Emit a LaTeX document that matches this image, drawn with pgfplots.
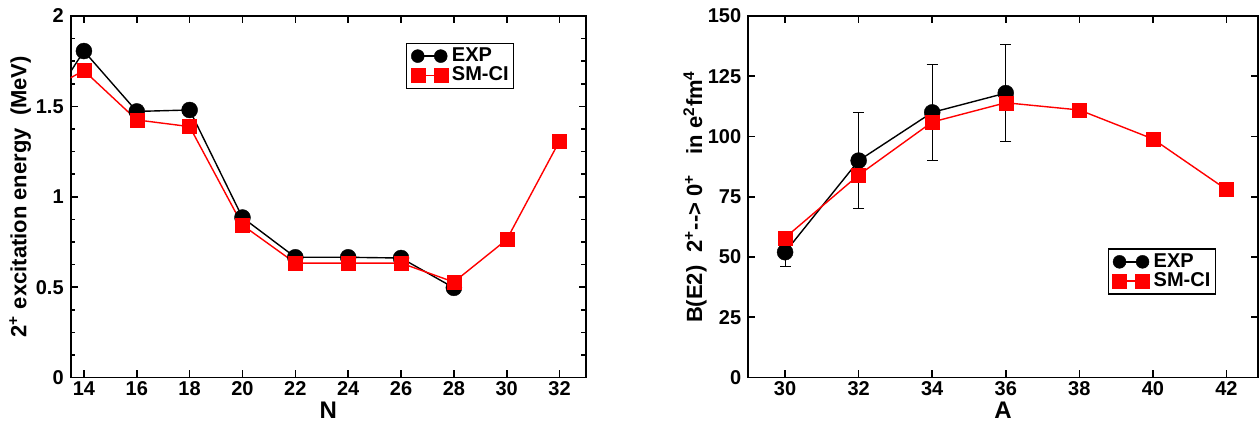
\documentclass[border=0pt]{standalone}
\usepackage{pgfplots}
\pgfplotsset{compat=1.18}
\usepackage{fontspec}
\setmainfont{Liberation Sans}

\pgfplotsset{
  myaxis/.style={
    scale only axis,
    axis line style={line width=0.9pt},
    every tick/.style={black, line width=0.8pt},
    major tick length=3.5pt, minor tick length=2.3pt,
    tick align=inside,
    tick label style={font=\bfseries\fontsize{10}{12}\selectfont},
    xticklabel style={inner sep=2pt},
    /pgf/number format/assume math mode=true,
    legend style={draw=black, line width=0.6pt,
      font=\bfseries\fontsize{10}{10}\selectfont,
      inner xsep=2pt, inner ysep=1.6pt, row sep=0pt, column sep=1.5pt,
      nodes={inner sep=0.6pt, text depth=0.15em}},
    legend cell align=left,
    xlabel style={font=\bfseries\fontsize{12}{12}\selectfont, inner sep=0pt},
    ylabel style={font=\bfseries\fontsize{11}{11}\selectfont},
  },
  exp/.style={black, line width=0.7pt, mark=*, mark size=4pt,
    mark options={solid, fill=black, draw=black, line width=0.2pt},
    legend image code/.code={\draw[mark repeat=1,##1,mark size=3.25pt] plot coordinates {(0pt,0pt) (11.5pt,0pt)};}},
  smci/.style={red, line width=0.7pt, mark=square*, mark size=3.5pt,
    mark options={solid, fill=red, draw=red, line width=0.2pt},
    legend image code/.code={\draw[mark repeat=1,##1] plot coordinates {(0pt,0pt) (11.5pt,0pt)};}},
}

\pgfplotstableread{
x y
12 1.354
14 1.806
16 1.472
18 1.480
20 0.885
22 0.665
24 0.665
26 0.661
28 0.496
}\expN

\pgfplotstableread{
x y
12 1.54
14 1.698
16 1.425
18 1.388
20 0.843
22 0.633
24 0.633
26 0.633
28 0.528
30 0.763
32 1.309
}\smN

\pgfplotstableread{
x y e
30 52 6
32 90 20
34 110 20
36 118 20
}\expA

\pgfplotstableread{
x y
30 58
32 84
34 106
36 114
38 111
40 99
42 78
}\smA

\begin{document}
\begin{tikzpicture}
\path[use as bounding box] (0,0) rectangle (629.5pt,211pt);

\begin{axis}[myaxis,
  at={(35.35pt,22.25pt)}, anchor=south west,
  width=257.65pt, height=180.75pt,
  xmin=13.5, xmax=33, ymin=0, ymax=2,
  xtick={14,16,...,32},
  ytick={0,0.5,1,1.5,2}, yticklabels={0,0.5,1,1.5,2},
  minor y tick num=3,
  xlabel={N},
  xlabel style={at={(axis description cs:0.5,-0.09)}, anchor=center},
  ylabel={2\textsuperscript{+} excitation energy\ \ (MeV)},
  ylabel style={at={(axis description cs:-0.098,0.5)}, anchor=center},
  legend style={at={(0.651,0.926)}, anchor=north west},
]
\addplot[exp] table[x=x,y=y] {\expN};
\addlegendentry{EXP}
\addplot[smci] table[x=x,y=y] {\smN};
\addlegendentry{SM-CI}
\end{axis}

\begin{axis}[myaxis,
  at={(374.15pt,22.25pt)}, anchor=south west,
  width=254.7pt, height=180.75pt,
  xmin=29, xmax=42.85, ymin=0, ymax=150,
  xtick={30,32,...,42},
  ytick={0,25,...,150},
  xlabel={A},
  xlabel style={at={(axis description cs:0.5,-0.09)}, anchor=center},
  ylabel={B(E2)\hspace{0.6em}2\textsuperscript{+}-{}-{}>\ 0\textsuperscript{+}\hspace{0.9em}in e\textsuperscript{2}fm\textsuperscript{4}},
  ylabel style={at={(axis description cs:-0.1046,0.5)}, anchor=center},
  legend style={at={(0.706,0.357)}, anchor=north west},
]
\addplot[exp, error bars/.cd, y dir=both, y explicit,
  error bar style={line width=0.5pt, black},
  error mark options={rotate=90, mark size=2.75pt, line width=0.5pt, black}]
  table[x=x,y=y,y error=e] {\expA};
\addlegendentry{EXP}
\addplot[smci] table[x=x,y=y] {\smA};
\addlegendentry{SM-CI}
\end{axis}
\end{tikzpicture}
\end{document}
